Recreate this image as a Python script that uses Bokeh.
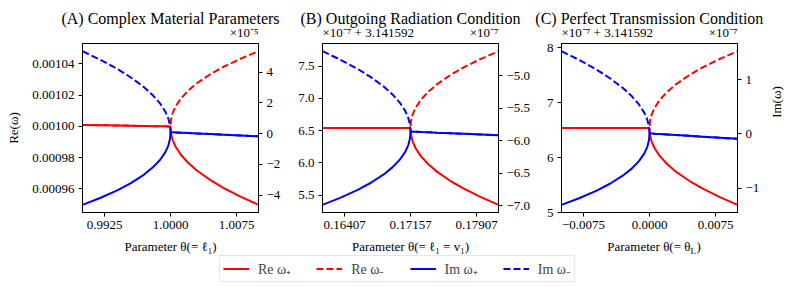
import math
from bokeh.plotting import figure
from bokeh.models import (Range1d, LinearAxis, FixedTicker, CustomJSTickFormatter,
                          Label, Legend, LegendItem)
from bokeh.layouts import column, row
from bokeh.embed import file_html
from bokeh.resources import INLINE

# ---------------- data ----------------
# (A) Complex material parameters: Re in raw units, Im in units of 1e-5
a_theta = [0.99, 0.992, 0.994, 0.9955, 0.997, 0.998, 0.9988, 0.9994, 0.99975, 0.99994, 1.0,
           1.00006, 1.00025, 1.0006, 1.0012, 1.002, 1.003, 1.0045, 1.006, 1.008, 1.01]
a_re_plus = [1.00100e-3, 1.00080e-3, 1.00060e-3, 1.00045e-3, 1.00030e-3, 1.00020e-3, 1.00012e-3,
             1.00006e-3, 1.000025e-3, 1.000006e-3, 1.00000e-3,
             0.99555e-3, 0.99129e-3, 0.98683e-3, 0.98173e-3, 0.97673e-3, 0.97175e-3, 0.96575e-3,
             0.96068e-3, 0.95492e-3, 0.94980e-3]
a_re_minus = [1.00100e-3, 1.00080e-3, 1.00060e-3, 1.00045e-3, 1.00030e-3, 1.00020e-3, 1.00012e-3,
              1.00006e-3, 1.000025e-3, 1.000006e-3, 1.00000e-3,
              1.00443e-3, 1.00867e-3, 1.01305e-3, 1.01803e-3, 1.02287e-3, 1.02765e-3, 1.03335e-3,
              1.03812e-3, 1.04348e-3, 1.04820e-3]
a_im_plus = [-4.630, -4.184, -3.673, -3.214, -2.659, -2.191, -1.713, -1.216, -0.776, -0.350, 0.100,
             0.098, 0.093, 0.084, 0.068, 0.046, 0.019, -0.022, -0.062, -0.116, -0.170]
a_im_minus = [5.370, 4.816, 4.197, 3.657, 3.021, 2.499, 1.977, 1.449, 0.990, 0.553, 0.100,
              0.098, 0.093, 0.084, 0.068, 0.046, 0.019, -0.022, -0.062, -0.116, -0.170]

# (B) Outgoing radiation condition: values in units of 1e-7 (Re offset by 3.141592)
b_theta = [0.161573, 0.163573, 0.165573, 0.167073, 0.168573, 0.169573, 0.170373, 0.170973,
           0.171323, 0.171513, 0.171573, 0.171633, 0.171823, 0.172173, 0.172773, 0.173573,
           0.174573, 0.176073, 0.177573, 0.179573, 0.181573]
b_re_plus = [6.54, 6.54, 6.54, 6.54, 6.54, 6.54, 6.54, 6.54, 6.54, 6.54, 6.54,
             6.4325, 6.3298, 6.2229, 6.1009, 5.9819, 5.8641, 5.7225, 5.6035, 5.469, 5.35]
b_re_minus = [6.54, 6.54, 6.54, 6.54, 6.54, 6.54, 6.54, 6.54, 6.54, 6.54, 6.54,
              6.6475, 6.7502, 6.8571, 6.9791, 7.0981, 7.2159, 7.3575, 7.4765, 7.611, 7.73]
b_im_plus = [-6.985, -6.878, -6.756, -6.646, -6.514, -6.402, -6.289, -6.171, -6.067, -5.966, -5.860,
             -5.860, -5.861, -5.863, -5.867, -5.871, -5.877, -5.885, -5.893, -5.904, -5.915]
b_im_minus = [-4.625, -4.754, -4.898, -5.025, -5.173, -5.296, -5.418, -5.542, -5.650, -5.753, -5.860,
              -5.860, -5.861, -5.863, -5.867, -5.871, -5.877, -5.885, -5.893, -5.904, -5.915]

# (C) Perfect transmission condition: values in units of 1e-7 (Re offset by 3.141592)
c_theta = [-0.01, -0.008, -0.006, -0.0045, -0.003, -0.002, -0.0012, -0.0006, -0.00025, -0.00006, 0.0,
           0.00006, 0.00025, 0.0006, 0.0012, 0.002, 0.003, 0.0045, 0.006, 0.008, 0.01]
c_re_plus = [6.54, 6.54, 6.54, 6.54, 6.54, 6.54, 6.54, 6.54, 6.54, 6.54, 6.54,
             6.4136, 6.2928, 6.1669, 6.0234, 5.8834, 5.7448, 5.5782, 5.4382, 5.28, 5.14]
c_re_minus = [6.54, 6.54, 6.54, 6.54, 6.54, 6.54, 6.54, 6.54, 6.54, 6.54, 6.54,
              6.6664, 6.7872, 6.9131, 7.0566, 7.1966, 7.3352, 7.5018, 7.6418, 7.80, 7.94]
c_im_plus = [-1.305, -1.184, -1.044, -0.917, -0.764, -0.634, -0.500, -0.361, -0.237, -0.117, 0.010,
             0.009, 0.008, 0.004, -0.002, -0.010, -0.020, -0.035, -0.050, -0.070, -0.090]
c_im_minus = [1.525, 1.364, 1.184, 1.027, 0.844, 0.694, 0.544, 0.393, 0.262, 0.138, 0.010,
              0.009, 0.008, 0.004, -0.002, -0.010, -0.020, -0.035, -0.050, -0.070, -0.090]

# ticks
a_x_ticks = [0.9925, 1.0, 1.0075]
a_x_labels = ["0.9925", "1.0000", "1.0075"]
a_y_ticks = [0.00096, 0.00098, 0.00100, 0.00102, 0.00104]
a_y_labels = ["0.00096", "0.00098", "0.00100", "0.00102", "0.00104"]
a_y2_ticks = [-4, -2, 0, 2, 4]
a_y2_labels = ["\u22124", "\u22122", "0", "2", "4"]

b_x_ticks = [0.164073, 0.171573, 0.179073]
b_x_labels = ["0.16407", "0.17157", "0.17907"]
b_y_ticks = [5.5, 6.0, 6.5, 7.0, 7.5]
b_y_labels = ["5.5", "6.0", "6.5", "7.0", "7.5"]
b_y2_ticks = [-7.0, -6.5, -6.0, -5.5, -5.0, -4.5]
b_y2_labels = ["\u22127.0", "\u22126.5", "\u22126.0", "\u22125.5", "\u22125.0", "\u22124.5"]

c_x_ticks = [-0.0075, 0.0, 0.0075]
c_x_labels = ["\u22120.0075", "0.0000", "0.0075"]
c_y_ticks = [5, 6, 7, 8]
c_y_labels = ["5", "6", "7", "8"]
c_y2_ticks = [-1, 0, 1]
c_y2_labels = ["\u22121", "0", "1"]

titles = ["(A) Complex Material Parameters",
          "(B) Outgoing Radiation Condition",
          "(C) Perfect Transmission Condition"]
x_titles = ["Parameter \u03b8(= \u2113\u2081)", "Parameter \u03b8(= \u2113\u2081 = v\u2081)"]
legend_labels = ["Re \u03c9\u208a", "Re \u03c9\u208b", "Im \u03c9\u208a", "Im \u03c9\u208b"]

# ---------------- style / layout ----------------
FONT = "Liberation Serif"
RED, BLUE = "#ff0000", "#0000ff"
LW = 2
DASH = "7 3"
FRAME_W, FRAME_H = 176, 169
TOP, BOTTOM = 3, 26
PANEL_H = TOP + FRAME_H + BOTTOM
TOTAL_W = 794
HEAD_H, XL_H, LEG_H = 40, 17, 32
# panel borders (left, right) and frame left edges in page coordinates
BORDERS = [(82, 33), (31, 40), (23, 28)]
PANEL_W = [l + FRAME_W + r for l, r in BORDERS]
FRAME_L = [BORDERS[0][0],
           PANEL_W[0] + BORDERS[1][0],
           PANEL_W[0] + PANEL_W[1] + BORDERS[2][0]]
IM_W = TOTAL_W - sum(PANEL_W)


def padded(series):
    lo = min(min(s) for s in series)
    hi = max(max(s) for s in series)
    span = hi - lo
    return Range1d(lo - 0.05 * span, hi + 0.05 * span)


def tick_fmt(tv, tl):
    return CustomJSTickFormatter(args=dict(tvals=tv, tlabs=tl), code="""
        let best = 0, d = Infinity;
        for (let i = 0; i < tvals.length; i++) {
            const e = Math.abs(tvals[i] - tick);
            if (e < d) { d = e; best = i; }
        }
        return tlabs[best];
    """)


def style_axis(ax, tv, tl):
    ax.ticker = FixedTicker(ticks=tv)
    ax.formatter = tick_fmt(tv, tl)
    ax.major_tick_in = 0
    ax.major_tick_out = 4
    ax.minor_tick_in = 0
    ax.minor_tick_out = 0
    ax.major_label_standoff = 4
    ax.major_label_text_font = FONT
    ax.major_label_text_font_size = "13px"
    ax.major_label_text_color = "black"
    ax.axis_line_color = "black"
    ax.major_tick_line_color = "black"
    ax.axis_label_text_font = FONT
    ax.axis_label_text_font_size = "13px"
    ax.axis_label_text_font_style = "normal"
    ax.axis_label_text_color = "black"
    ax.axis_label_standoff = 8


def txt(p, x, y, text, align="left", baseline="middle", size="13px", angle=0.0):
    p.add_layout(Label(x=x, y=y, x_units="screen", y_units="screen", text=text,
                       text_align=align, text_baseline=baseline, angle=angle,
                       text_font=FONT, text_font_size=size, text_color="black"))


def strip(w, h):
    return figure(width=w, height=h, x_range=Range1d(0, w), y_range=Range1d(0, h),
                  x_axis_type=None, y_axis_type=None, min_border=0, outline_line_color=None,
                  output_backend="svg", toolbar_location=None, tools="")


def make_panel(theta, re_p, re_m, im_p, im_m, xt, xl, yt, yl, y2t, y2l, bl, br):
    p = figure(width=bl + FRAME_W + br, height=PANEL_H,
               x_range=Range1d(min(theta), max(theta)),
               y_range=padded([re_p, re_m]),
               output_backend="svg", toolbar_location=None, tools="",
               min_border_left=bl, min_border_right=br,
               min_border_top=TOP, min_border_bottom=BOTTOM)
    p.extra_y_ranges = {"im": padded([im_p, im_m])}
    p.add_layout(LinearAxis(y_range_name="im"), "right")
    p.grid.visible = False
    p.outline_line_color = "black"
    p.outline_line_width = 1
    p.outline_line_alpha = 1
    p.line(theta, re_p, color=RED, line_width=LW)
    p.line(theta, re_m, color=RED, line_width=LW, line_dash=DASH)
    p.line(theta, im_p, color=BLUE, line_width=LW, y_range_name="im")
    p.line(theta, im_m, color=BLUE, line_width=LW, line_dash=DASH, y_range_name="im")
    style_axis(p.below[0], xt, xl)
    style_axis(p.left[0], yt, yl)
    style_axis(p.right[0], y2t, y2l)
    return p


pA = make_panel(a_theta, a_re_plus, a_re_minus, a_im_plus, a_im_minus,
                a_x_ticks, a_x_labels, a_y_ticks, a_y_labels, a_y2_ticks, a_y2_labels, *BORDERS[0])
pB = make_panel(b_theta, b_re_plus, b_re_minus, b_im_plus, b_im_minus,
                b_x_ticks, b_x_labels, b_y_ticks, b_y_labels, b_y2_ticks, b_y2_labels, *BORDERS[1])
pC = make_panel(c_theta, c_re_plus, c_re_minus, c_im_plus, c_im_minus,
                c_x_ticks, c_x_labels, c_y_ticks, c_y_labels, c_y2_ticks, c_y2_labels, *BORDERS[2])
pA.left[0].axis_label = "Re(\u03c9)"

# right-hand "Im(ω)" label strip
pIm = strip(IM_W, PANEL_H)
txt(pIm, 11, BOTTOM + FRAME_H / 2, "Im(\u03c9)", align="center", angle=math.pi / 2)

# header strip: titles and the axis offset texts
pH = strip(TOTAL_W, HEAD_H)
for fl, t in zip(FRAME_L, titles):
    txt(pH, fl + FRAME_W / 2, HEAD_H - 17.5, t, align="center", size="16px")
OY = 8
txt(pH, FRAME_L[0] + FRAME_W, OY, "\u00d710\u207b\u2075", align="right")
for fl in FRAME_L[1:]:
    txt(pH, fl, OY, "\u00d710\u207b\u2077 + 3.141592", align="left")
    txt(pH, fl + FRAME_W, OY, "\u00d710\u207b\u2077", align="right")

# x-axis label strip
pX = strip(TOTAL_W, XL_H)
XY = 9
txt(pX, FRAME_L[0] + FRAME_W / 2, XY, x_titles[0], align="center")
txt(pX, FRAME_L[1] + FRAME_W / 2, XY, x_titles[1], align="center")
cx = FRAME_L[2] + FRAME_W / 2
txt(pX, cx + 41, XY, "Parameter \u03b8(= \u03b8", align="right")
txt(pX, cx + 41, XY - 4, "L", align="left", size="9px")
txt(pX, cx + 47, XY, ")", align="left")

# legend strip (legend proxies are the real series drawn outside the visible range)
pL = figure(width=TOTAL_W, height=LEG_H, x_range=Range1d(10, 11), y_range=Range1d(10, 11),
            x_axis_type=None, y_axis_type=None, min_border=0, outline_line_color=None,
            output_backend="svg", toolbar_location=None, tools="")
r1 = pL.line(a_theta, a_re_plus, color=RED, line_width=LW)
r2 = pL.line(a_theta, a_re_minus, color=RED, line_width=LW, line_dash=DASH)
r3 = pL.line(a_theta, a_im_plus, color=BLUE, line_width=LW)
r4 = pL.line(a_theta, a_im_minus, color=BLUE, line_width=LW, line_dash=DASH)
legend = Legend(items=[LegendItem(label=lab, renderers=[r]) for lab, r in
                       zip(legend_labels, [r1, r2, r3, r4])],
                orientation="horizontal", location="top_center",
                label_text_font=FONT, label_text_font_size="14px",
                glyph_width=26, glyph_height=15, label_height=15, label_standoff=9,
                spacing=25, padding=3, margin=0,
                border_line_color="#cccccc", border_line_width=1,
                background_fill_color="white", background_fill_alpha=0.8)
pL.add_layout(legend, "center")

layout = column(pH, row(pA, pB, pC, pIm), pX, pL)
open("out.html", "w").write(file_html(layout, INLINE))
